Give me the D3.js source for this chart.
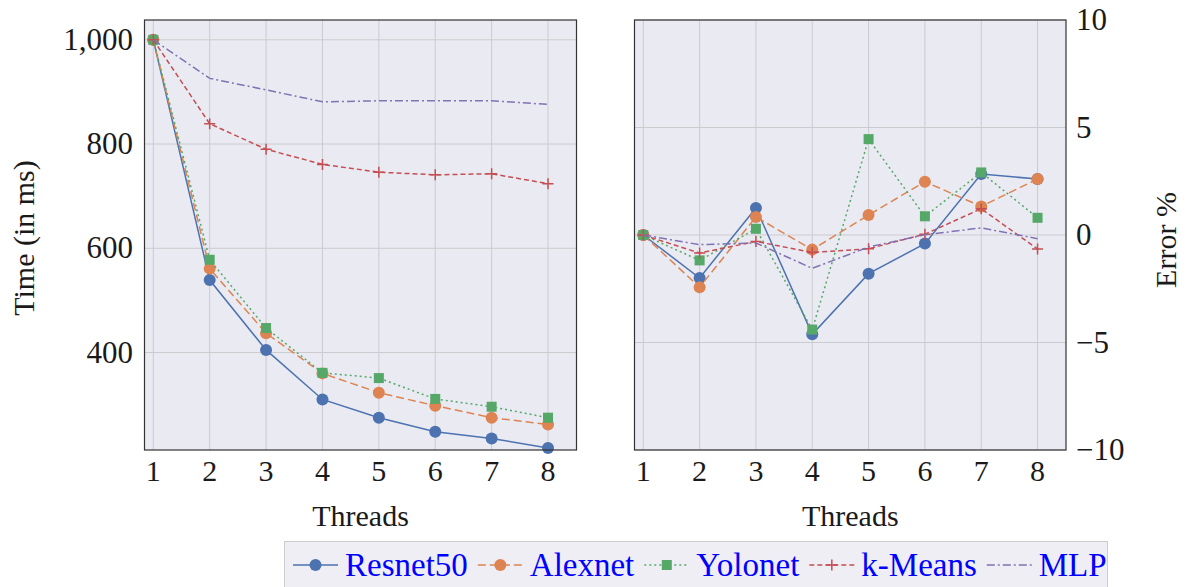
<!DOCTYPE html>
<html>
<head>
<meta charset="utf-8">
<script src="https://cdn.jsdelivr.net/npm/d3@7"></script>
<style>
  body { margin: 0; background: #fff; }
  text { font-family: "Liberation Serif", "DejaVu Serif", serif; }
</style>
</head>
<body>
<div id="chart"></div>
<script>
// data
const threads = [1, 2, 3, 4, 5, 6, 7, 8];
const seriesNames = ['Resnet50', 'Alexnet', 'Yolonet', 'k-Means', 'MLP'];

const timeResnet = [1000, 539, 405, 310, 275, 248, 235, 217];
const timeAlexnet = [1000, 561, 437, 360, 323, 298, 275, 262];
const timeYolonet = [1000, 578, 447, 361, 351, 311, 296, 275];
const timeKmeans = [1000, 839, 790, 761, 746, 741, 743, 724];
const timeMlp = [1000, 926, 904, 881, 883, 883, 883, 876];

const errResnet = [0, -2.0, 1.26, -4.62, -1.8, -0.4, 2.84, 2.6];
const errAlexnet = [0, -2.43, 0.84, -0.68, 0.93, 2.48, 1.33, 2.6];
const errYolonet = [0, -1.18, 0.29, -4.4, 4.46, 0.87, 2.91, 0.8];
const errKmeans = [0, -0.84, -0.3, -0.81, -0.64, 0.04, 1.22, -0.65];
const errMlp = [0, -0.45, -0.37, -1.55, -0.56, 0.01, 0.33, -0.17];

const timeTicks = [400, 600, 800, 1000];
const errTicks = [-10, -5, 0, 5, 10];

const styles = [
  { color: '#4c72b0', dash: null, marker: 'circle' },
  { color: '#dd8452', dash: '8,4', marker: 'circle' },
  { color: '#55a868', dash: '2,3', marker: 'square' },
  { color: '#c44e52', dash: '5,3', marker: 'plus' },
  { color: '#8172b3', dash: '8,3,2,3', marker: null }
];

const W = 1187, H = 587;
const svg = d3.select('#chart').append('svg')
  .attr('width', W).attr('height', H);

const plotTop = 20, plotBottom = 450;
const leftPanel = { x0: 144.5, x1: 576.5 };
const rightPanel = { x0: 634.5, x1: 1066 };
const textColor = '#1a1a1a';

function xScaleFor(p) {
  return d3.scaleLinear().domain([0.844, 8.505]).range([p.x0, p.x1]);
}

const xL = xScaleFor(leftPanel);
const xR = xScaleFor(rightPanel);
const yL = d3.scaleLinear().domain([213, 1038]).range([plotBottom, plotTop]);
const yR = d3.scaleLinear().domain([-10, 10]).range([plotBottom, plotTop]);

function drawPanel(p, x, y, yTicks, data) {
  const g = svg.append('g');
  g.append('rect')
    .attr('x', p.x0).attr('y', plotTop)
    .attr('width', p.x1 - p.x0).attr('height', plotBottom - plotTop)
    .attr('fill', '#eaeaf2');

  // grid
  g.selectAll('.vgrid').data(threads).enter().append('line')
    .attr('x1', d => x(d)).attr('x2', d => x(d))
    .attr('y1', plotTop).attr('y2', plotBottom)
    .attr('stroke', '#cbcbcf').attr('stroke-width', 1);
  g.selectAll('.hgrid').data(yTicks).enter().append('line')
    .attr('x1', p.x0).attr('x2', p.x1)
    .attr('y1', d => y(d)).attr('y2', d => y(d))
    .attr('stroke', '#cbcbcf').attr('stroke-width', 1);

  // lines + markers
  data.forEach((vals, i) => {
    const st = styles[i];
    const pts = threads.map((t, j) => ({ t: t, v: vals[j] }));
    const line = d3.line().x(d => x(d.t)).y(d => y(d.v));
    g.append('path')
      .datum(pts)
      .attr('fill', 'none')
      .attr('stroke', st.color)
      .attr('stroke-width', 1.5)
      .attr('stroke-dasharray', st.dash)
      .attr('d', line);
    drawMarkers(g, pts.map(d => [x(d.t), y(d.v)]), st);
  });

  g.append('rect')
    .attr('x', p.x0).attr('y', plotTop)
    .attr('width', p.x1 - p.x0).attr('height', plotBottom - plotTop)
    .attr('fill', 'none').attr('stroke', '#333').attr('stroke-width', 1.2);

  // x tick labels
  g.selectAll('.xt').data(threads).enter().append('text')
    .attr('x', d => x(d)).attr('y', 481)
    .attr('text-anchor', 'middle')
    .attr('font-size', 30)
    .attr('fill', textColor)
    .text(d => d);

  g.append('text')
    .attr('x', (p.x0 + p.x1) / 2).attr('y', 526)
    .attr('text-anchor', 'middle')
    .attr('font-size', 30)
    .attr('fill', textColor)
    .text('Threads');
  return g;
}

function drawMarkers(g, pts, st) {
  if (st.marker === 'circle') {
    g.selectAll(null).data(pts).enter().append('circle')
      .attr('cx', d => d[0]).attr('cy', d => d[1]).attr('r', 6)
      .attr('fill', st.color);
  } else if (st.marker === 'square') {
    g.selectAll(null).data(pts).enter().append('rect')
      .attr('x', d => d[0] - 5).attr('y', d => d[1] - 5)
      .attr('width', 10).attr('height', 10)
      .attr('fill', st.color);
  } else if (st.marker === 'plus') {
    g.selectAll(null).data(pts).enter().append('path')
      .attr('d', d => `M${d[0] - 5.5},${d[1]}H${d[0] + 5.5}M${d[0]},${d[1] - 5.5}V${d[1] + 5.5}`)
      .attr('stroke', st.color).attr('stroke-width', 1.5);
  }
}

drawPanel(leftPanel, xL, yL, timeTicks,
  [timeResnet, timeAlexnet, timeYolonet, timeKmeans, timeMlp]);
drawPanel(rightPanel, xR, yR, errTicks,
  [errResnet, errAlexnet, errYolonet, errKmeans, errMlp]);

// left y axis
const fmtL = d3.format(',');
svg.selectAll('.ylt').data(timeTicks).enter().append('text')
  .attr('x', 133).attr('y', d => yL(d) + 10)
  .attr('text-anchor', 'end')
  .attr('font-size', 31)
  .attr('fill', textColor)
  .text(d => fmtL(d));

svg.append('text')
  .attr('transform', 'translate(34,238) rotate(-90)')
  .attr('text-anchor', 'middle')
  .attr('font-size', 30)
  .attr('fill', textColor)
  .text('Time (in ms)');

// right y axis
const fmtR = d3.format('d');
svg.selectAll('.yrt').data(errTicks).enter().append('text')
  .attr('x', 1076).attr('y', d => yR(d) + 10)
  .attr('text-anchor', 'start')
  .attr('font-size', 31)
  .attr('fill', textColor)
  .text(d => fmtR(d));

svg.append('text')
  .attr('transform', 'translate(1176,240) rotate(-90)')
  .attr('text-anchor', 'middle')
  .attr('font-size', 30)
  .attr('fill', textColor)
  .text('Error %');

// legend
const lg = svg.append('g');
lg.append('rect')
  .attr('x', 284.5).attr('y', 541.5)
  .attr('width', 823).attr('height', 70)
  .attr('fill', '#eeeef4').attr('stroke', '#cccccc').attr('stroke-width', 1);

let lx = 293;
seriesNames.forEach((name, i) => {
  const st = styles[i];
  const cy = 565;
  lg.append('line')
    .attr('x1', lx).attr('x2', lx + 45)
    .attr('y1', cy).attr('y2', cy)
    .attr('stroke', st.color).attr('stroke-width', 1.5)
    .attr('stroke-dasharray', st.dash);
  drawMarkers(lg, [[lx + 22.5, cy]], st);
  const t = lg.append('text')
    .attr('x', lx + 52).attr('y', cy + 11)
    .attr('font-size', 33)
    .attr('fill', '#0000ff')
    .text(name);
  lx += 52 + t.node().getComputedTextLength() + 10;
});
</script>
</body>
</html>
